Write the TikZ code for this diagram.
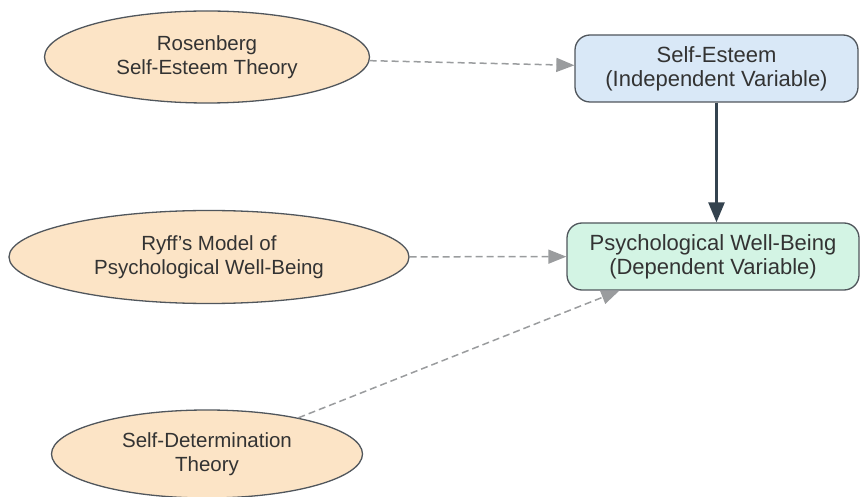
\documentclass[tikz,border=0pt]{standalone}
\usepackage{fontspec}
\setmainfont{Liberation Sans}
\usepackage{xcolor}
\usetikzlibrary{shapes.geometric,arrows.meta}

\definecolor{theoryfill}{HTML}{FCE4C6}
\definecolor{ivfill}{HTML}{D9E8F7}
\definecolor{dvfill}{HTML}{D3F4E4}
\definecolor{edgegray}{HTML}{50565C}
\definecolor{dashgray}{HTML}{9A9C9E}
\definecolor{darkarrow}{HTML}{34434F}
\definecolor{txt}{HTML}{333333}

\begin{document}
\begin{tikzpicture}[x=1pt,y=1pt,
    theory/.style={ellipse,draw=edgegray,line width=1.3pt,fill=theoryfill,
        text=txt,align=center,inner sep=0pt,font=\fontsize{20.5}{24}\selectfont},
    varbox/.style={rectangle,rounded corners=15pt,draw=edgegray,line width=1.3pt,
        text=txt,align=center,inner sep=0pt,minimum height=67pt,
        font=\fontsize{22}{24}\selectfont},
    link/.style={dashgray,line width=1.5pt,dash pattern=on 7pt off 4pt,
        -{Triangle[length=18pt,width=14pt]}},
    effect/.style={darkarrow,line width=2.6pt,-{Triangle[length=20pt,width=16pt]}}]

    \useasboundingbox (0,0) rectangle (860,-497);

    \node[theory,minimum width=325pt,minimum height=92pt] (rose) at (207,-57) {Rosenberg\\Self-Esteem Theory};
    \node[theory,minimum width=400pt,minimum height=93pt] (ryff) at (209,-257) {Ryff's Model of\\Psychological Well-Being};
    \node[theory,minimum width=311pt,minimum height=88pt] (sdt) at (207,-454) {Self-Determination\\Theory};
    \node[varbox,fill=ivfill,minimum width=283pt] (se) at (716.5,-68.5) {Self-Esteem\\(Independent Variable)};
    \node[varbox,fill=dvfill,minimum width=292pt] (pwb) at (713,-256.5) {Psychological Well-Being\\(Dependent Variable)};

    \draw[link] (rose) -- (se);
    \draw[link] (ryff) -- (pwb);
    \draw[link] (sdt) -- ([xshift=53pt]pwb.south west);
    \draw[effect] (se.south) -- (se.south |- pwb.north);

\end{tikzpicture}
\end{document}
